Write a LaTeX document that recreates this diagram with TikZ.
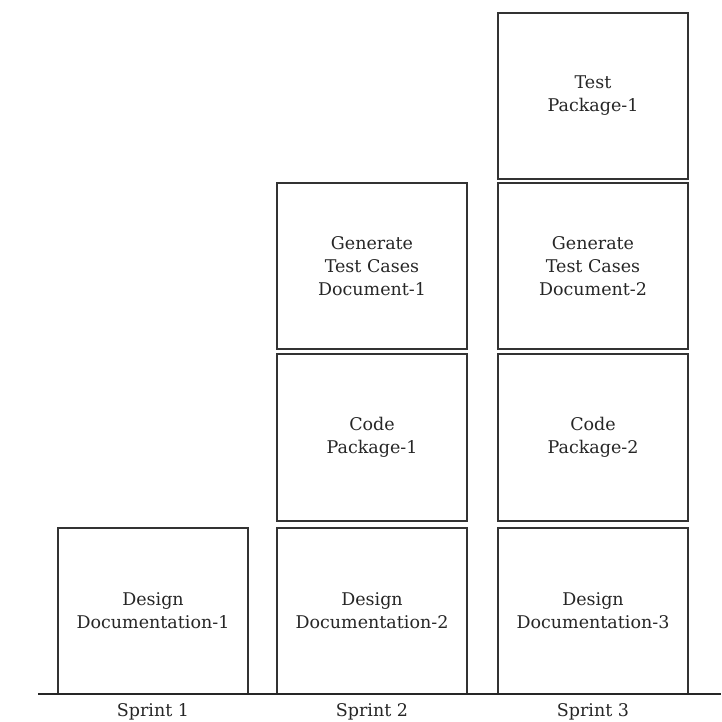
\documentclass[tikz,border=0pt]{standalone}
\usepackage{fontspec}
\setmainfont{DejaVu Serif}
\begin{document}
\begin{tikzpicture}[x=1pt,y=1pt,
  blk/.style={draw=black!80,line width=1.3pt,minimum width=190pt,minimum height=166pt,inner sep=0pt,align=center,font=\fontsize{17.5}{23}\selectfont,text=black!85},
  lbl/.style={font=\fontsize{17.5}{23}\selectfont,text=black!85,inner sep=0pt}]
\useasboundingbox (0,0) rectangle (721,-722);
\node[blk] (d1) at (153,-611) {Design\\Documentation-1};
\node[blk] (d2) at (372,-611) {Design\\Documentation-2};
\node[blk] (d3) at (593,-611) {Design\\Documentation-3};
\node[blk,minimum height=167pt] (c1) at (372,-437.5) {Code\\Package-1};
\node[blk,minimum height=167pt] (c2) at (593,-437.5) {Code\\Package-2};
\node[blk] (g1) at (372,-266) {Generate\\Test Cases\\Document-1};
\node[blk] (g2) at (593,-266) {Generate\\Test Cases\\Document-2};
\node[blk] (t1) at (593,-96) {Test\\Package-1};
\coordinate (bl) at (38,-694);
\coordinate (br) at (721,-694);
\draw[line width=2pt,black!85] (bl) -- (br);
\node[lbl] (s1) at (153,-712) {Sprint 1};
\node[lbl] (s2) at (372,-712) {Sprint 2};
\node[lbl] (s3) at (593,-712) {Sprint 3};
\end{tikzpicture}
\end{document}
